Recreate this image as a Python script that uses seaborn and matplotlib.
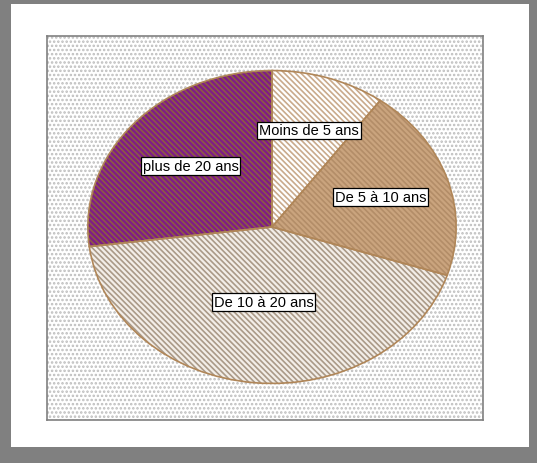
import matplotlib
matplotlib.use("Agg")
import matplotlib.pyplot as plt
import seaborn as sns
from matplotlib.patches import Rectangle
import numpy as np

sns.set_theme(style="white")
plt.rcParams['font.family'] = ['Liberation Sans', 'DejaVu Sans']
plt.rcParams['hatch.linewidth'] = 1.2

categories = ["Moins de 5 ans", "De 5 à 10 ans", "De 10 à 20 ans", "plus de 20 ans"]
values = [10, 20, 43, 27]

face_colors = ["#ffffff", "#caa47e", "#f3eee8", "#7e1c88"]
hatch_colors = ["#c9aa8c", "#b38d68", "#aa9a88", "#8e5a44"]
label_r = [0.65, 0.62, 0.48, 0.59]

W, H = 537, 464
fig = plt.figure(figsize=(W / 100, H / 100), dpi=100)
fig.patch.set_facecolor("#808080")

def fx(px):
    return px / W

def fy(py):
    return 1 - py / H

# white card
card = fig.add_axes([fx(11), fy(448), fx(529) - fx(11), fy(5) - fy(448)])
card.set_axis_off()
card.add_patch(Rectangle((0, 0), 1, 1, transform=card.transAxes,
                         facecolor="white", edgecolor="none"))

# plot area (dotted)
bg = fig.add_axes([fx(47), fy(421), fx(483) - fx(47), fy(37) - fy(421)])
bg.set_xticks([]); bg.set_yticks([])
bg.add_patch(Rectangle((0, 0), 1, 1, transform=bg.transAxes, facecolor="white",
                       edgecolor="#bdbdbd", hatch="....", linewidth=0))
for s in bg.spines.values():
    s.set_color("#808080"); s.set_linewidth(1.2)
bg.set_xlim(0, 1); bg.set_ylim(0, 1)

# pie axes (elliptical)
ax = fig.add_axes([fx(86), fy(386), fx(458) - fx(86), fy(70) - fy(386)])
ax.set_axis_off()
ax.patch.set_alpha(0)
wedges, _ = ax.pie(values, startangle=90, counterclock=False, colors=face_colors,
                   wedgeprops=dict(linewidth=0))
for w, hc in zip(wedges, hatch_colors):
    w.set_hatch("\\\\\\\\\\\\")
    w.set_edgecolor(hc)
outline, _ = ax.pie(values, startangle=90, counterclock=False,
                    wedgeprops=dict(fill=False, edgecolor="#b08658", linewidth=1.2))
ax.set_aspect("auto")
ax.set_xlim(-1.01, 1.01); ax.set_ylim(-1.01, 1.01)

for w, lab, r in zip(wedges, categories, label_r):
    ang = np.deg2rad((w.theta1 + w.theta2) / 2)
    ax.text(r * np.cos(ang), r * np.sin(ang), lab, ha="center", va="center",
            fontsize=10.5, color="black",
            bbox=dict(boxstyle="square,pad=0.12", facecolor="white",
                      edgecolor="black", linewidth=0.9))

fig.savefig("out.png", dpi=100, facecolor=fig.get_facecolor())
